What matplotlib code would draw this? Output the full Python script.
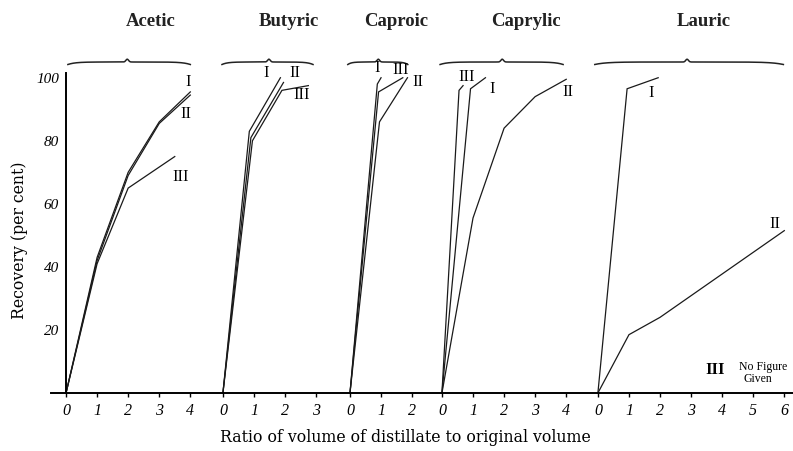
import numpy as np
import matplotlib
matplotlib.use("Agg")
import matplotlib.pyplot as plt
from matplotlib import transforms

# ---- data ----
acids = ["Acetic", "Butyric", "Caproic", "Caprylic", "Lauric"]
x_max = [4, 3, 2, 4, 6]

acetic_I_x = [0, 1, 2, 3, 4];      acetic_I_y = [0, 43, 70, 86, 95.5]
acetic_II_x = [0, 1, 2, 3, 4];     acetic_II_y = [0, 42, 69, 85.5, 94.5]
acetic_III_x = [0, 1, 2, 3.5];     acetic_III_y = [0, 41, 65, 75]

butyric_I_x = [0, 0.85, 1.85];     butyric_I_y = [0, 83, 100]
butyric_II_x = [0, 0.9, 1.95];     butyric_II_y = [0, 81, 98.5]
butyric_III_x = [0, 0.95, 1.9, 2.75]; butyric_III_y = [0, 80, 96, 97.5]

caproic_I_x = [0, 0.88, 1.0];      caproic_I_y = [0, 98, 100]
caproic_III_x = [0, 0.92, 1.7];    caproic_III_y = [0, 95.5, 100]
caproic_II_x = [0, 0.95, 1.85];    caproic_II_y = [0, 86, 100]

caprylic_III_x = [0, 0.55, 0.68];  caprylic_III_y = [0, 96, 97.5]
caprylic_I_x = [0, 0.92, 1.4];     caprylic_I_y = [0, 96.5, 100]
caprylic_II_x = [0, 1, 2, 3, 4];   caprylic_II_y = [0, 55.5, 84, 94, 99.5]

lauric_I_x = [0, 0.94, 1.94];      lauric_I_y = [0, 96.5, 100]
lauric_II_x = [0, 1, 2, 6];        lauric_II_y = [0, 18.5, 24, 51.5]

series = [
    [(acetic_I_x, acetic_I_y), (acetic_II_x, acetic_II_y), (acetic_III_x, acetic_III_y)],
    [(butyric_I_x, butyric_I_y), (butyric_II_x, butyric_II_y), (butyric_III_x, butyric_III_y)],
    [(caproic_I_x, caproic_I_y), (caproic_III_x, caproic_III_y), (caproic_II_x, caproic_II_y)],
    [(caprylic_III_x, caprylic_III_y), (caprylic_I_x, caprylic_I_y), (caprylic_II_x, caprylic_II_y)],
    [(lauric_I_x, lauric_I_y), (lauric_II_x, lauric_II_y)],
]

# curve labels: (text, x, y)
curve_labels = [
    [("I", 3.94, 98.5), ("II", 3.87, 88.5), ("III", 3.7, 68.5)],
    [("I", 1.39, 101.5), ("II", 2.32, 101.5), ("III", 2.52, 94.5)],
    [("I", 0.88, 103), ("III", 1.63, 102.5), ("II", 2.2, 98.5)],
    [("III", 0.8, 100.3), ("I", 1.6, 96.5), ("II", 4.06, 95.5)],
    [("I", 1.72, 95), ("II", 5.7, 53.5)],
]

y_ticks = [20, 40, 60, 80, 100]

# ---- layout ----
xlims = [(-0.5, 5.05), (0, 4.09), (0, 2.96), (0, 5.02), (0, 6.28)]
widths = [b - a for a, b in xlims]
brace_span = [(0.06, 4.0, 1.97), (-0.03, 2.9, 1.48), (-0.07, 1.86, 0.91),
              (-0.06, 3.9, 1.94), (-0.1, 5.97, 2.87)]
title_x = [2.74, 2.13, 1.47, 2.71, 3.39]

serif = ["Liberation Serif", "DejaVu Serif"]
serif_wide = ["DejaVu Serif"]
plt.rcParams["font.family"] = serif

fig = plt.figure(figsize=(7.93, 4.51), dpi=100)
gs = fig.add_gridspec(1, 5, width_ratios=widths, wspace=0,
                      left=50.5 / 793, right=1.0,
                      bottom=(451 - 393) / 451, top=1 - 73 / 451)

axes = []
for i in range(5):
    ax = fig.add_subplot(gs[0, i], sharey=axes[0] if axes else None)
    axes.append(ax)
    ax.set_xlim(*xlims[i])
    ax.set_ylim(0, 101.5)
    ax.patch.set_alpha(0)
    for s in ["top", "right"]:
        ax.spines[s].set_visible(False)
    ax.spines["bottom"].set_linewidth(1.4)
    if i == 0:
        ax.spines["left"].set_position(("data", 0))
        ax.spines["left"].set_linewidth(1.4)
        ax.set_yticks(y_ticks)
        ax.set_yticklabels([str(v) for v in y_ticks], fontstyle="italic", fontsize=11)
        ax.tick_params(axis="y", length=0, pad=5)
    else:
        ax.spines["left"].set_visible(False)
        ax.tick_params(axis="y", left=False, labelleft=False)
    ticks = list(range(0, x_max[i] + 1))
    ax.set_xticks(ticks)
    ax.set_xticklabels([str(t) for t in ticks], fontstyle="italic", fontsize=11.5)
    ax.tick_params(axis="x", length=3, width=1, direction="out", pad=4)

    for xs, ys in series[i]:
        ax.plot(xs, ys, color="#1a1a1a", lw=0.9, clip_on=False, solid_joinstyle="miter")
    for txt, lx, ly in curve_labels[i]:
        ax.text(lx, ly, txt, fontsize=12, ha="center", va="center",
                family=serif, clip_on=False)

    tr = transforms.blended_transform_factory(ax.transData, fig.transFigure)
    # title
    ax.text(title_x[i], 1 - 22 / 451, acids[i], transform=tr, ha="center", va="center",
            fontsize=13.5, fontweight="bold", family=serif, color="#222222")
    # brace
    a, b, pk = brace_span[i]
    xb = np.linspace(a, b, 300)
    t = (xb - a) / (b - a)
    yb = (1 - 62 / 451) + (
        -2.5 * np.exp(-t / 0.06) - 2.5 * np.exp(-(1 - t) / 0.06)
        + 2.8 * np.exp(-((xb - pk) / 0.06) ** 2)) / 451
    ax.plot(xb, yb, transform=tr, color="#222222", lw=1.1, clip_on=False)

# legend note
axL = axes[4]
axL.text(3.78, 7.2, "III", fontsize=12, fontweight="bold", ha="center", va="center", family=serif)
axL.text(4.55, 8.3, "No Figure", fontsize=8.5, ha="left", va="center", family=serif)
axL.text(4.7, 4.3, "Given", fontsize=8.5, ha="left", va="center", family=serif)

fig.text(20 / 793, 1 - 240 / 451, "Recovery (per cent)", rotation=90,
         ha="center", va="center", fontsize=11.3, family=serif_wide)
fig.text(405 / 793, 1 - 438 / 451, "Ratio of volume of distillate to original volume",
         ha="center", va="center", fontsize=11.3, family=serif_wide)

fig.savefig("out.png", dpi=100)
